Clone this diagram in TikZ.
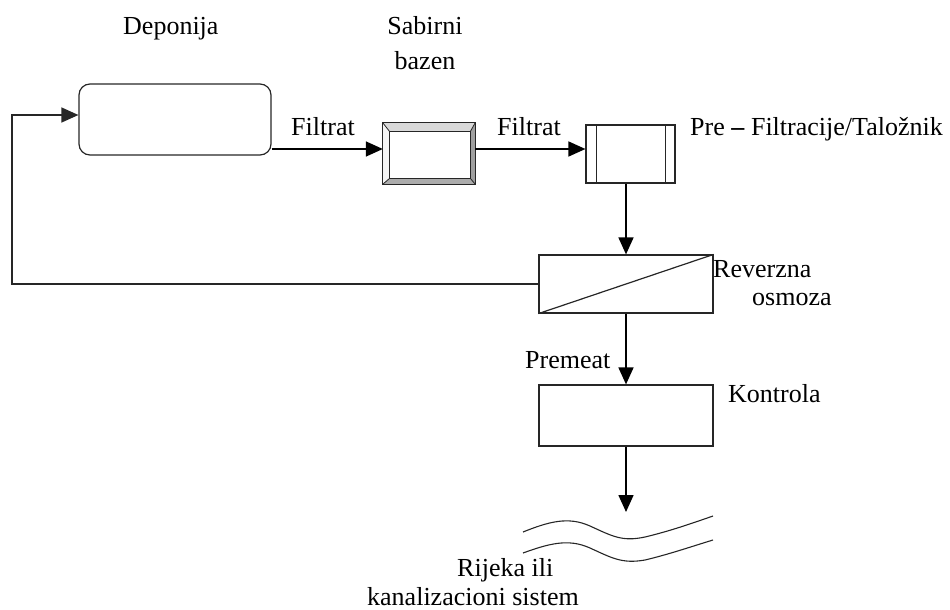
\documentclass[tikz,border=0pt]{standalone}
\usepackage{fontspec}
\setmainfont{Liberation Serif}
\usetikzlibrary{arrows.meta,calc}
\begin{document}
\begin{tikzpicture}[x=1pt,y=-1pt,
  lbl/.style={font=\rmfamily\fontsize{26}{28}\selectfont, inner sep=0, anchor=base west},
  blk/.style={draw=black!85, line width=1.2pt, inner sep=0, rectangle},
  tip/.tip={Triangle[length=17pt,width=15pt]},
  arr/.style={draw=black, line width=1.6pt, -tip},
  ln/.style={draw=black!85, line width=1.2pt}]
\useasboundingbox (0,0) rectangle (950,610);

% boxes
\node[blk, rounded corners=11pt, minimum width=192pt, minimum height=71pt] (dep) at (175,119.5) {};
\node[inner sep=0, minimum width=92pt, minimum height=61pt] (sab) at (429,153.5) {};
\node[blk, minimum width=89pt, minimum height=58pt] (pre) at (630.5,154) {};
\node[blk, minimum width=174pt, minimum height=58pt] (ro) at (626,284) {};
\node[blk, minimum width=174pt, minimum height=61pt] (kon) at (626,415.5) {};
\coordinate (river) at (626,512);
\coordinate (fb) at (12,284);

% bevelled Sabirni bazen
\coordinate (A) at (sab.north west);
\coordinate (B) at (sab.north east);
\coordinate (C) at (sab.south east);
\coordinate (D) at (sab.south west);
\coordinate (a) at ($(A)+(7,9)$);
\coordinate (b) at ($(B)+(-5,9)$);
\coordinate (c) at ($(C)+(-5,-6)$);
\coordinate (d) at ($(D)+(7,-6)$);
\fill[gray!30] (A) -- (B) -- (b) -- (a) -- cycle;
\fill[gray!8] (A) -- (a) -- (d) -- (D) -- cycle;
\fill[gray!75] (B) -- (C) -- (c) -- (b) -- cycle;
\fill[gray!65] (D) -- (C) -- (c) -- (d) -- cycle;
\draw[ln] (A) rectangle (C);
\draw[ln] (a) rectangle (c);
\draw[ln, line width=0.8pt] (A) -- (a) (B) -- (b) (C) -- (c) (D) -- (d);

% prefilter inner lines
\draw[ln] ($(pre.north west)+(11,0)$) -- ($(pre.south west)+(11,0)$);
\draw[ln] ($(pre.north east)+(-10,0)$) -- ($(pre.south east)+(-10,0)$);

% reverse osmosis diagonal
\draw[ln] (ro.south west) -- (ro.north east);

% connectors
\draw[arr] (dep.east |- 0,149) -- (sab.west |- 0,149);
\draw[arr] (sab.east |- 0,149) -- (pre.west |- 0,149);
\draw[arr] (ro.north |- pre.south) -- (ro.north);
\draw[arr] (ro.south) -- (kon.north);
\draw[arr] (kon.south) -- (river);
\draw[ln, -tip, line width=1.4pt] (ro.west) -- (fb) |- (dep.west |- 0,115);

% river
\draw[ln, line width=1.1pt] (523,532) .. controls (548,522) and (568,516) .. (590,526)
  .. controls (612,536) and (622,542) .. (645,537) .. controls (670,531) and (690,524) .. (713,516);
\draw[ln, line width=1.1pt] (523,553) .. controls (548,544) and (568,538) .. (590,548)
  .. controls (612,558) and (622,564) .. (645,560) .. controls (670,554) and (690,547) .. (713,540);

% labels
\node[lbl] (tdep) at (123,35) {Deponija};
\node[lbl, anchor=base] (tsab1) at (425,35) {Sabirni};
\node[lbl, anchor=base] (tsab2) at (425,70) {bazen};
\node[lbl] (tf1) at (291,135) {Filtrat};
\node[lbl] (tf2) at (497,135) {Filtrat};
\node[lbl] (tpre) at (690,135) {Pre \textbf{–} Filtracije/Taložnik};
\node[lbl] (tro1) at (713,277) {Reverzna};
\node[lbl] (tro2) at (752,305) {osmoza};
\node[lbl] (tprem) at (525,368) {Premeat};
\node[lbl] (tkon) at (728,402) {Kontrola};
\node[lbl] (triv1) at (457,576) {Rijeka ili};
\node[lbl] (triv2) at (367,605) {kanalizacioni sistem};
\end{tikzpicture}
\end{document}
